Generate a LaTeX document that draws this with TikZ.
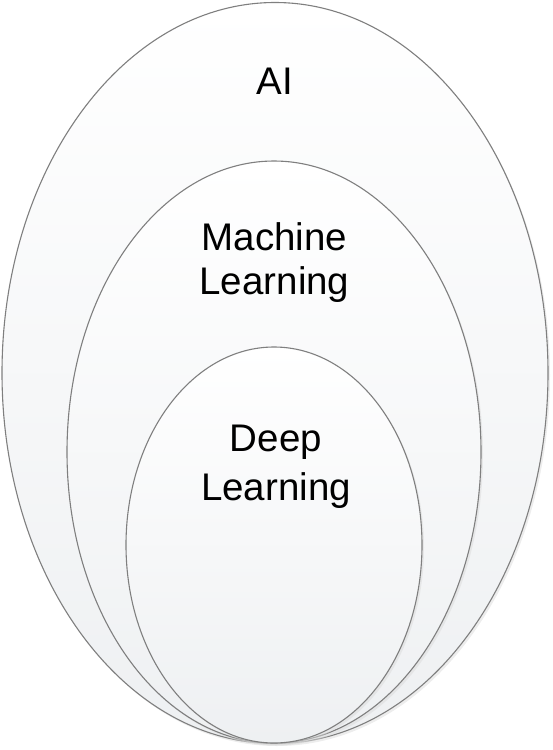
\documentclass[tikz,border=0pt]{standalone}
\usepackage{fontspec}
\setmainfont{Liberation Sans}
\usetikzlibrary{shapes.geometric,shadows}
\definecolor{rimgray}{HTML}{7F7F7F}
\definecolor{shadegray}{HTML}{EEF0F2}
\begin{document}
\begin{tikzpicture}[x=1pt,y=-1pt,
    setbox/.style={ellipse, draw=rimgray, line width=1.1pt, inner sep=0pt,
      top color=white, bottom color=shadegray,
      drop shadow={shadow xshift=2pt, shadow yshift=-2.5pt, fill=black!14}},
    setlabel/.style={font=\fontsize{38.5}{44}\selectfont, align=center, inner sep=0pt}]
    \useasboundingbox (0,0) rectangle (552,750);
    \node[setbox, minimum width=546pt, minimum height=741pt] (ai) at (275,373) {};
    \node[setbox, minimum width=414pt, minimum height=582pt] (ml) at (274,452) {};
    \node[setbox, minimum width=296pt, minimum height=396pt] (dl) at (274,545) {};
    \node[setlabel, anchor=base] (ailabel) at (275,94) {AI};
    \node[setlabel, anchor=north] (mllabel) at (274.5,222) {Machine\\Learning};
    \node[setlabel, anchor=north, font=\fontsize{38.5}{49}\selectfont] (dllabel) at (276,425) {Deep\\Learning};
\end{tikzpicture}
\end{document}
